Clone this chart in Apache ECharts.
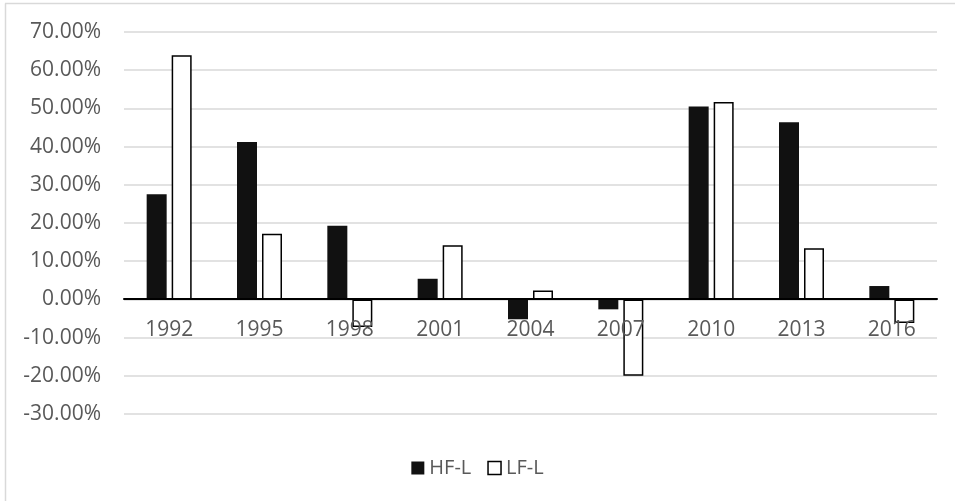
<!DOCTYPE html>
<html>
<head>
<meta charset="utf-8">
<script src="https://cdn.jsdelivr.net/npm/echarts@6/dist/echarts.min.js"></script>
<style>
html,body{margin:0;padding:0;background:#fff;}
#chart{width:955px;height:501px;}
</style>
</head>
<body>
<div id="chart"></div>
<script>
const years = ['1992','1995','1998','2001','2004','2007','2010','2013','2016'];
const hfL = [27.5, 41.2, 19.3, 5.4, -5.2, -2.6, 50.5, 46.4, 3.5];
const lfL = [63.9, 17.2, -7.2, 14.2, 2.3, -20.0, 51.7, 13.4, -6.2];
const seriesNames = ['HF-L', 'LF-L'];

const chart = echarts.init(document.getElementById('chart'));
const font = '"Open Sans", sans-serif';
chart.setOption({
  animation: false,
  backgroundColor: '#fff',
  graphic: [
    {type: 'line', shape: {x1: 5.5, y1: 3.5, x2: 5.5, y2: 501}, style: {stroke: '#d9d9d9', lineWidth: 1.5}, silent: true},
    {type: 'line', shape: {x1: 5, y1: 3.5, x2: 955, y2: 3.5}, style: {stroke: '#d9d9d9', lineWidth: 1.5}, silent: true}
  ],
  grid: {left: 124, right: 18, top: 32, bottom: 87, containLabel: false},
  legend: {
    data: [
      {name: seriesNames[0], icon: 'rect', itemStyle: {color: '#111', borderWidth: 0}},
      {name: seriesNames[1], icon: 'rect', itemStyle: {color: '#fff', borderColor: '#000', borderWidth: 1.5}}
    ],
    top: 453,
    left: 'center',
    itemWidth: 13,
    itemHeight: 13,
    itemGap: 16,
    textStyle: {fontFamily: font, fontSize: 20, color: '#595959'}
  },
  xAxis: {
    type: 'category',
    data: years,
    offset: -115,
    axisLine: {onZero: false, lineStyle: {color: '#000', width: 2}},
    axisTick: {show: false},
    axisLabel: {margin: 21, fontFamily: font, fontSize: 21, color: '#595959'},
    splitLine: {show: false},
    z: 5
  },
  yAxis: {
    type: 'value',
    min: -30, max: 70, interval: 10,
    axisLine: {show: false},
    axisTick: {show: false},
    axisLabel: {
      margin: 23,
      fontFamily: font, fontSize: 21, color: '#595959',
      formatter: v => v.toFixed(2) + '%'
    },
    splitLine: {lineStyle: {color: '#d9d9d9', width: 1.5}}
  },
  series: [
    {
      name: seriesNames[0], type: 'bar', data: hfL,
      barWidth: 20, barGap: '25%',
      itemStyle: {color: '#111'}
    },
    {
      name: seriesNames[1], type: 'bar', data: lfL,
      barWidth: 20,
      itemStyle: {color: '#fff', borderColor: '#000', borderWidth: 1.5}
    }
  ]
});
</script>
</body>
</html>
